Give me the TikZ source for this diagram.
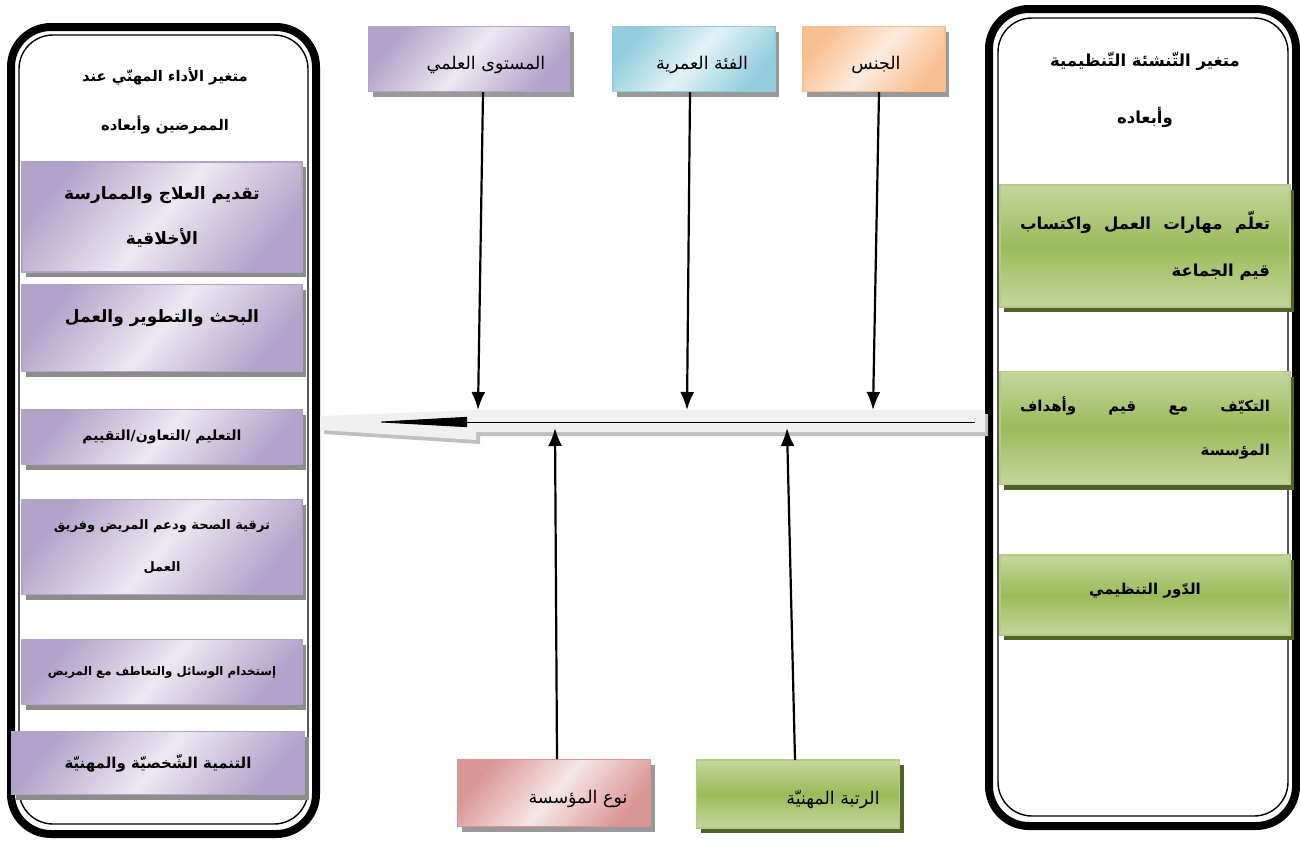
\documentclass[tikz,border=0pt]{standalone}
\usepackage{fontspec}
\usetikzlibrary{arrows.meta,shadows,positioning}
\newfontfamily\arabicfont[Script=Arabic]{DejaVu Sans}
\TeXXeTstate=1
\newcommand{\ar}[1]{\beginR#1\endR}
\definecolor{purpLight}{HTML}{ECE8F2}
\definecolor{purpDark}{HTML}{B3A3CA}
\definecolor{greenLight}{HTML}{C4D79E}
\definecolor{greenDark}{HTML}{9BBB59}
\definecolor{greenShadow}{HTML}{4F6228}
\definecolor{blueLight}{HTML}{E2F2F6}
\definecolor{blueDark}{HTML}{93CDDD}
\definecolor{orangeLight}{HTML}{FDEBDD}
\definecolor{orangeDark}{HTML}{F9BE8F}
\definecolor{pinkLight}{HTML}{F6E6E6}
\definecolor{pinkDark}{HTML}{DA9694}

\begin{document}
\begin{tikzpicture}[x=1pt,y=-1pt]
        \tikzset{tint/.style={top color=#1Dark, bottom color=#1Dark, middle color=#1Light, shading angle=50},
                 lbox/.style={draw=purpDark, line width=1.5pt, tint=purp,
                   minimum width=280pt, align=center, font=\arabicfont\bfseries\fontsize{17}{20}\selectfont,
                   general shadow={fill=black!45, shadow xshift=4pt, shadow yshift=-5pt}},
                 rbox/.style={draw=greenDark!75!white, line width=1.5pt, top color=greenLight, bottom color=greenLight,
                   middle color=greenDark, minimum width=290pt, font=\arabicfont\bfseries\fontsize{15}{18}\selectfont,
                   general shadow={fill=greenShadow, shadow xshift=4pt, shadow yshift=-5pt}},
                 tbox/.style={line width=1.5pt, minimum height=65pt, text height=24pt, text depth=4pt,
                   font=\arabicfont\fontsize{17.5}{20}\selectfont,
                   general shadow={fill=black!40, shadow xshift=4pt, shadow yshift=-5pt}},
                 headtext/.style={align=center, font=\arabicfont\bfseries\fontsize{14.7}{17}\selectfont},
                 feeder/.style={line width=2.2pt, -{Latex[length=18pt, width=14pt]}}}
        \useasboundingbox (0,0) rectangle (1300,841);
        % the two frames
        \draw[line width=8pt, rounded corners=40pt] (11,27) rectangle (316,834);
        \draw[line width=1.4pt, rounded corners=34pt] (19,35) rectangle (308,824);
        \draw[line width=8pt, rounded corners=40pt] (989,9) rectangle (1296,826);
        \draw[line width=1.4pt, rounded corners=34pt] (998,18) rectangle (1288,816);
        
        % left frame
        \node[headtext] (lhead) at (165,101) {\ar{متغير الأداء المهنّي عند}\\[30pt]\ar{الممرضين وأبعاده}};
        \node[lbox, minimum height=110pt] (care) at (162,217) {\ar{تقديم العلاج والممارسة}\\[24pt]\ar{الأخلاقية}};
        \node[lbox, minimum height=87pt, text depth=24pt] (research) at (162,328) {\ar{البحث والتطوير والعمل}};
        \node[lbox, minimum height=55pt, font=\arabicfont\bfseries\fontsize{14}{17}\selectfont] (teach) at (162,437) {\ar{التعليم /التعاون/التقييم}};
        \node[lbox, minimum height=95pt, font=\arabicfont\bfseries\fontsize{13}{16}\selectfont] (health) at (162,547) {\ar{ترقية الصحة ودعم المريض وفريق}\\[26pt]\ar{العمل}};
        \node[lbox, minimum height=65pt, font=\arabicfont\bfseries\fontsize{11.8}{14}\selectfont] (tools) at (162,672) {\ar{إستخدام الوسائل والتعاطف مع المريض}};
        \node[lbox, minimum height=63pt, minimum width=293pt, font=\arabicfont\bfseries\fontsize{15}{18}\selectfont] (growth) at (158,763) {\ar{التنمية الشّخصيّة  والمهنيّة}};
        
        % right frame
        \node[headtext, font=\arabicfont\bfseries\fontsize{16.5}{19}\selectfont] (rhead) at (1145,90) {\ar{متغير التّنشئة التّنظيمية}\\[36pt]\ar{وأبعاده}};
        \node[rbox, minimum height=122pt, align=right, font=\arabicfont\bfseries\fontsize{16.5}{19}\selectfont] (skills) at (1145,246)
            {\makebox[250pt][s]{\ar{تعلّم مهارات العمل واكتساب}}\\[28pt]\ar{قيم الجماعة}};
        \node[rbox, minimum height=113pt, align=right] (adapt) at (1145,428)
            {\makebox[250pt][s]{\ar{التكيّف\hfill مع\hfill قيم\hfill وأهداف}}\\[26pt]\ar{المؤسسة}};
        \node[rbox, minimum height=80pt, text depth=12pt] (role) at (1145,595) {\ar{الدّور التنظيمي}};
        
        % main spine
        \fill[black!25] (988,414) -- (480,414) -- (324,420) -- (324,434) -- (480,444) -- (480,436) -- (988,436) -- cycle;
        \fill[black!6] (985,410) -- (476,410) -- (320,416) -- (320,430) -- (476,440) -- (476,432) -- (985,432) -- cycle;
        \coordinate (spineR) at (975,422);
        \coordinate (spineL) at (372,422);
        \draw[line width=1pt, -{Triangle[length=95pt, width=10pt]}] (spineR) -- (spineL);
        
        % factor boxes
        \node[tbox, draw=purpDark, tint=purp, minimum width=201pt] (level) at (469,59) {\hspace*{34pt}\ar{المستوى العلمي}};
        \node[tbox, draw=blueDark, tint=blue, minimum width=162pt] (age) at (694,59) {\hspace*{16pt}\ar{الفئة العمرية}};
        \node[tbox, draw=orangeDark, tint=orange, minimum width=142pt] (sex) at (874,59) {\hspace*{4pt}\ar{الجنس}};
        \node[tbox, draw=pinkDark, tint=pink, minimum width=193pt, minimum height=67pt] (inst) at (554,793) {\hspace*{48pt}\ar{نوع المؤسسة}};
        \node[tbox, draw=greenDark!75!white, top color=greenLight, bottom color=greenLight, middle color=greenDark,
              general shadow={fill=greenShadow, shadow xshift=4pt, shadow yshift=-5pt},
              minimum width=203pt, minimum height=68pt] (rank) at (798,794) {\hspace*{70pt}\ar{الرتبة المهنيّة}};
        
        % feeders
        \coordinate (fLevel) at (478,410);
        \coordinate (fAge) at (687,410);
        \coordinate (fSex) at (873,410);
        \coordinate (fInst) at (555,428);
        \coordinate (fRank) at (787,428);
        \draw[feeder] (483,92) -- (fLevel);
        \draw[feeder] (690,92) -- (fAge);
        \draw[feeder] (879,92) -- (fSex);
        \draw[feeder] (557,759) -- (fInst);
        \draw[feeder] (795,760) -- (fRank);
\end{tikzpicture}
\end{document}
